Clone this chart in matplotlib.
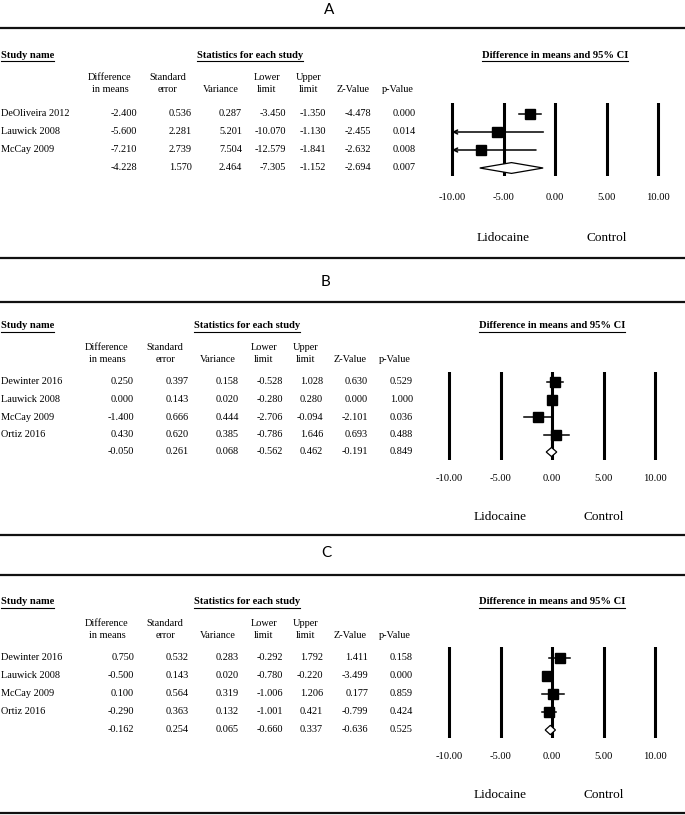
import matplotlib
matplotlib.use("Agg")
import matplotlib.pyplot as plt

# Panel A - lidocaine vs control
a_studies = ['DeOliveira 2012', 'Lauwick 2008', 'McCay 2009', '']
a_diff = [-2.400, -5.600, -7.210, -4.228]
a_se = [0.536, 2.281, 2.739, 1.570]
a_var = [0.287, 5.201, 7.504, 2.464]
a_lower = [-3.450, -10.070, -12.579, -7.305]
a_upper = [-1.350, -1.130, -1.841, -1.152]
a_z = [-4.478, -2.455, -2.632, -2.694]
a_p = [0.000, 0.014, 0.008, 0.007]

# Panel B
b_studies = ['Dewinter 2016', 'Lauwick 2008', 'McCay 2009', 'Ortiz 2016', '']
b_diff = [0.250, 0.000, -1.400, 0.430, -0.050]
b_se = [0.397, 0.143, 0.666, 0.620, 0.261]
b_var = [0.158, 0.020, 0.444, 0.385, 0.068]
b_lower = [-0.528, -0.280, -2.706, -0.786, -0.562]
b_upper = [1.028, 0.280, -0.094, 1.646, 0.462]
b_z = [0.630, 0.000, -2.101, 0.693, -0.191]
b_p = [0.529, 1.000, 0.036, 0.488, 0.849]

# Panel C
c_studies = ['Dewinter 2016', 'Lauwick 2008', 'McCay 2009', 'Ortiz 2016', '']
c_diff = [0.750, -0.500, 0.100, -0.290, -0.162]
c_se = [0.532, 0.143, 0.564, 0.363, 0.254]
c_var = [0.283, 0.020, 0.319, 0.132, 0.065]
c_lower = [-0.292, -0.780, -1.006, -1.001, -0.660]
c_upper = [1.792, -0.220, 1.206, 0.421, 0.337]
c_z = [1.411, -3.499, 0.177, -0.799, -0.636]
c_p = [0.158, 0.000, 0.859, 0.424, 0.525]

xticks = [-10, -5, 0, 5, 10]
headers = [('Difference\nin means', 107), ('Standard\nerror', 165), ('Variance', 218),
           ('Lower\nlimit', 264), ('Upper\nlimit', 306), ('Z-Value', 350), ('p-Value', 395)]
col_right = [134, 189, 239, 283, 323, 368, 413]

W, H = 685, 815
fig = plt.figure(figsize=(W / 100, H / 100), dpi=100)
SERIF = 'Liberation Serif'
FS = 7.4


def fx(x):
    return x / W


def fy(y):
    return 1 - y / H


def underlined(x, y, s, ha):
    t = fig.text(fx(x), fy(y), s, ha=ha, va='center', fontsize=7.6, fontweight='bold',
                 family=SERIF)
    fig.canvas.draw()
    bb = t.get_window_extent()
    fig.add_artist(plt.Line2D([bb.x0 / W, bb.x1 / W], [(bb.y0 - 1) / H] * 2,
                              color='black', lw=0.8))


def panel(letter, letter_y, line_y, head_y, row0, step, xoff, studies, cols,
          lower, upper, diff, dia_h, lab_off, pad):
    fig.text(fx(326 + xoff), fy(letter_y), letter, ha='center', va='center',
             fontsize=11, family='Lato')
    fig.add_artist(plt.Line2D([0, 1], [fy(line_y)] * 2, color='#111111', lw=1.6))

    underlined(1, head_y, 'Study name', 'left')
    underlined(247 + xoff, head_y, 'Statistics for each study', 'center')
    underlined(552 + xoff, head_y, 'Difference in means and 95% CI', 'center')

    for (txt, cx) in headers:
        if '\n' in txt:
            l1, l2 = txt.split('\n')
            fig.text(fx(cx + xoff), fy(head_y + 22), l1, ha='center', va='center',
                     fontsize=FS, family=SERIF)
            fig.text(fx(cx + xoff), fy(head_y + 34), l2, ha='center', va='center',
                     fontsize=FS, family=SERIF)
        else:
            fig.text(fx(cx + xoff), fy(head_y + 34), txt, ha='center', va='center',
                     fontsize=FS, family=SERIF)

    n = len(studies)
    for i in range(n):
        y = row0 + i * step
        fig.text(fx(1), fy(y), studies[i], ha='left', va='center', fontsize=FS,
                 family=SERIF)
        for j, col in enumerate(cols):
            fig.text(fx(col_right[j] + xoff), fy(y), f'{col[i]:.3f}', ha='right',
                     va='center', fontsize=FS, family=SERIF)

    # forest plot axes, -10 at px 449 and 10 at px 655
    ppu = 10.3
    x0 = 449 + xoff - ppu
    width = 22 * ppu
    top = row0 - 0.6 * step
    bottom = row0 + (n - 1 + 0.45) * step
    ax = fig.add_axes([fx(x0), fy(bottom), width / W, (bottom - top) / H])
    ax.set_xlim(-11, 11)
    ax.set_ylim(n - 1 + 0.45, -0.6)
    for s in ax.spines.values():
        s.set_visible(False)
    ax.set_yticks([])
    ax.set_xticks(xticks)
    ax.set_xticklabels([f'{v:.2f}' for v in xticks], fontsize=7.6, family=SERIF)
    ax.tick_params(axis='x', length=0, pad=pad)
    ax.patch.set_alpha(0)
    for v in xticks:
        ax.axvline(v, color='black', lw=2.2, zorder=1)

    for i in range(n - 1):
        lo, hi = lower[i], upper[i]
        if lo < -10:
            ax.annotate('', xy=(-10, i), xytext=(hi, i),
                        arrowprops=dict(arrowstyle='->', lw=1.1, color='black',
                                        mutation_scale=7, shrinkA=0, shrinkB=0),
                        zorder=3)
        else:
            ax.plot([lo, hi], [i, i], color='black', lw=1.1, zorder=3)
        ax.plot(diff[i], i, marker='s', color='black', markersize=7.2, zorder=4)

    k = n - 1
    ax.fill([lower[k], diff[k], upper[k], diff[k]],
            [k, k - dia_h, k, k + dia_h], facecolor='white',
            edgecolor='black', lw=0.9, zorder=4)

    ly = k + lab_off / step
    ax.text(-5, ly, 'Lidocaine', ha='center', va='center', fontsize=9.5,
            family=SERIF, clip_on=False)
    ax.text(5, ly, 'Control', ha='center', va='center', fontsize=9.5,
            family=SERIF, clip_on=False)


panel('A', 10, 28, 55, 114, 18, 3, a_studies,
      [a_diff, a_se, a_var, a_lower, a_upper, a_z, a_p],
      a_lower, a_upper, a_diff, 0.3, 70, 12)
panel('B', 282, 302, 326, 382, 17.5, 0, b_studies,
      [b_diff, b_se, b_var, b_lower, b_upper, b_z, b_p],
      b_lower, b_upper, b_diff, 0.26, 65, 10)
panel('C', 553, 575, 602, 658, 18, 0, c_studies,
      [c_diff, c_se, c_var, c_lower, c_upper, c_z, c_p],
      c_lower, c_upper, c_diff, 0.26, 65, 10)

for y in [258, 535, 813]:
    fig.add_artist(plt.Line2D([0, 1], [fy(y)] * 2, color='#111111', lw=1.6))

fig.savefig('out.png', dpi=100)
